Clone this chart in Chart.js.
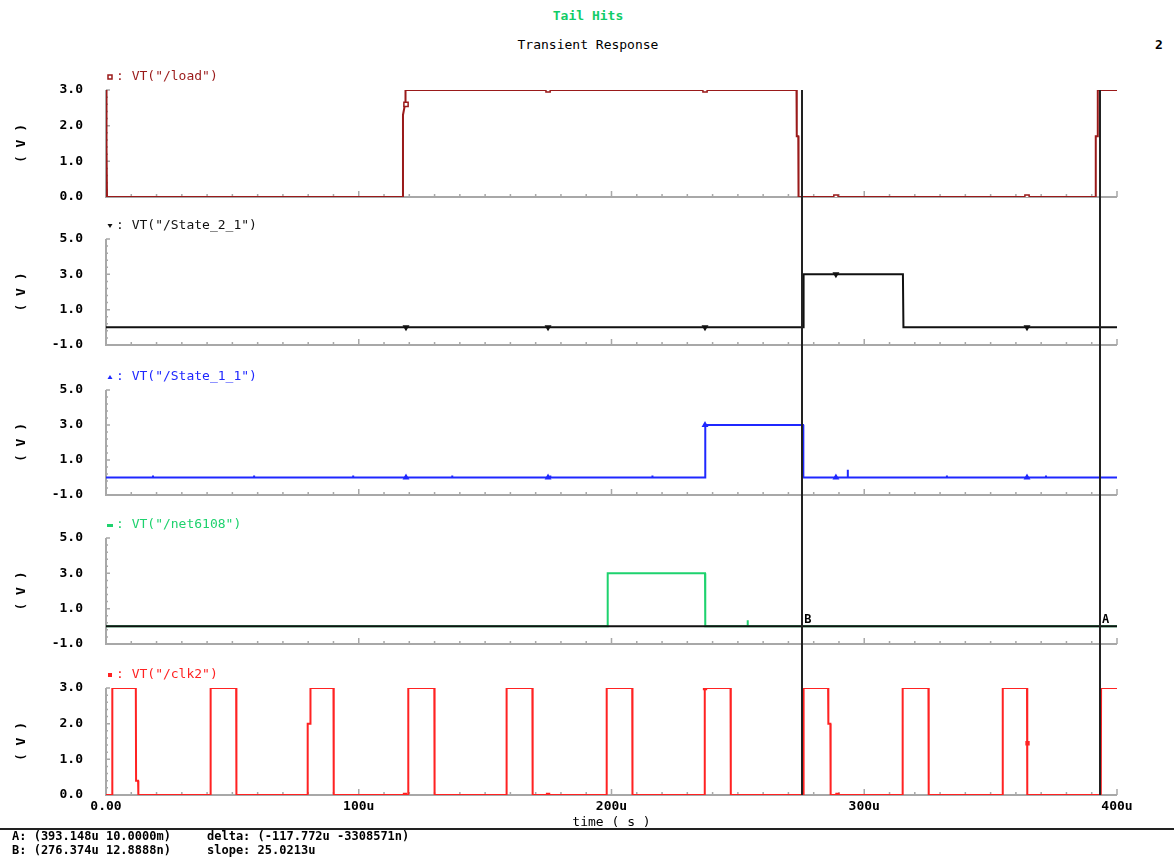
<!DOCTYPE html>
<html>
<head>
<meta charset="utf-8">
<title>Transient Response</title>
<script src="https://cdn.jsdelivr.net/npm/chart.js@4.4.1/dist/chart.umd.min.js"></script>
<style>
  body { margin: 0; background: #fff; }
  #page { position: relative; width: 1174px; height: 862px; overflow: hidden; background: #fff; }
  #page canvas { position: absolute; left: 0; }
  .txt { position: absolute; white-space: pre; font-family: "DejaVu Sans Mono", monospace; font-size: 13px; line-height: 14px; color: #000; }
</style>
</head>
<body>
<div id="page">
  <div class="txt" style="left:488px;top:9px;width:200px;text-align:center;color:#11cc66;font-weight:bold;">Tail Hits</div>
  <div class="txt" style="left:488px;top:38px;width:200px;text-align:center;">Transient Response</div>
  <div class="txt" style="left:1155px;top:38px;font-weight:bold;">2</div>

  <canvas id="c1" width="1174" height="147" style="top:60px"></canvas>
  <canvas id="c2" width="1174" height="148" style="top:207px"></canvas>
  <canvas id="c3" width="1174" height="150" style="top:355px"></canvas>
  <canvas id="c4" width="1174" height="149" style="top:505px"></canvas>
  <canvas id="c5" width="1174" height="176" style="top:654px"></canvas>

  <div style="position:absolute;left:0;top:828px;width:1174px;height:2px;background:#222;"></div>
  <div class="txt" style="left:12px;top:829px;font-size:12px;font-weight:bold;">A: (393.148u 10.0000m)
B: (276.374u 12.8888n)</div>
  <div class="txt" style="left:207px;top:829px;font-size:12px;font-weight:bold;">delta: (-117.772u -3308571n)
slope: 25.0213u</div>
</div>
<script>
// ---- data (time in us, values in V) ----
const xTickLabels = ['0.00', '100u', '200u', '300u', '400u'];
const cursorB = 275.5;
const cursorA = 393.3;

// marker positions shared by all traces
const markT = [118.7, 174.9, 237.0, 288.8, 364.4];

const loadT = [0, 0.1, 0.3, 0.4, 117.4, 117.5, 118.3, 118.5, 273.2, 273.3, 273.9, 274.0, 391.5, 391.6, 392.3, 392.4, 400];
const loadV = [3.0, 1.4, 1.4, 0, 0, 2.3, 2.6, 3.0, 3.0, 1.7, 1.7, 0, 0, 1.7, 1.7, 3.0, 3.0];
const loadMarkV = [2.6, 3.0, 3.0, 0, 0];

const st2T = [0, 275.8, 276.0, 315.3, 315.5, 400];
const st2V = [0, 0, 3.0, 3.0, 0, 0];
const st2MarkV = [0, 0, 0, 3.0, 0];

const st1T = [0, 18.6, 18.6, 18.6, 58.6, 58.6, 58.6, 97.8, 97.8, 97.8, 137.0, 137.0, 137.0,
  175.8, 175.8, 175.8, 216.2, 216.2, 216.2, 237.0, 237.1, 275.8, 275.9, 293.5, 293.5, 293.5,
  332.7, 332.7, 332.7, 371.9, 371.9, 371.9, 400];
const st1V = [0, 0, 0.12, 0, 0, 0.12, 0, 0, 0.12, 0, 0, 0.12, 0,
  0, 0.12, 0, 0, 0.12, 0, 0, 3.0, 3.0, 0, 0, 0.45, 0,
  0, 0.12, 0, 0, 0.12, 0, 0];
const st1MarkV = [0, 0, 3.0, 0, 0];

const netT = [0, 198.4, 198.5, 237.0, 237.1, 253.9, 253.9, 253.9, 400];
const netV = [0, 0, 3.0, 3.0, 0, 0, 0.35, 0, 0];
const refT = [0, 400];
const refV = [0, 0];

const clkT = [0, 2.4, 2.5, 11.8, 11.9, 12.7, 12.8,
  41.3, 41.4, 51.5, 51.6,
  79.7, 79.8, 80.8, 80.9, 90.0, 90.1,
  119.5, 119.6, 129.9, 130.0,
  158.4, 158.5, 168.7, 168.8,
  198.0, 198.1, 208.2, 208.3,
  236.8, 236.9, 247.1, 247.2,
  275.9, 276.0, 285.7, 285.8, 286.6, 286.7,
  315.1, 315.2, 325.4, 325.5,
  354.7, 354.8, 364.4, 364.5,
  393.6, 393.7, 400];
const clkV = [0, 0, 3.0, 3.0, 0.4, 0.4, 0,
  0, 3.0, 3.0, 0,
  0, 2.0, 2.0, 3.0, 3.0, 0,
  0, 3.0, 3.0, 0,
  0, 3.0, 3.0, 0,
  0, 3.0, 3.0, 0,
  0, 3.0, 3.0, 0,
  0, 3.0, 3.0, 2.0, 2.0, 0,
  0, 3.0, 3.0, 0,
  0, 3.0, 3.0, 0,
  0, 3.0, 3.0];
const clkMarkT = [118.3, 174.9, 237.0, 289.4, 364.6];
const clkMarkV = [0, 0, 3.0, 0, 1.45];

// ---- helpers ----
const MONO = '"DejaVu Sans Mono", monospace';
const X_MAX = 400;

function pts(ts, vs) {
  return ts.map((t, i) => ({ x: t, y: vs[i] }));
}

function trace(ts, vs, color) {
  return {
    data: pts(ts, vs), borderColor: color, borderWidth: 2,
    pointRadius: 0, tension: 0, fill: false
  };
}

function marks(ts, vs, color, style, radius, filled, rotation) {
  return {
    data: pts(ts, vs), showLine: false, pointStyle: style, pointRadius: radius,
    pointRotation: rotation || 0, borderColor: color, borderWidth: 1.5,
    backgroundColor: filled ? color : '#fff'
  };
}

function drawGlyph(ctx, kind, x, y, color) {
  ctx.fillStyle = color;
  ctx.strokeStyle = color;
  ctx.lineWidth = 1.5;
  if (kind === 'square') {
    ctx.strokeRect(x - 2, y - 1, 4, 4);
  } else if (kind === 'tridown') {
    ctx.beginPath(); ctx.moveTo(x - 2.5, y - 1); ctx.lineTo(x + 2.5, y - 1); ctx.lineTo(x, y + 3); ctx.closePath(); ctx.fill();
  } else if (kind === 'triup') {
    ctx.beginPath(); ctx.moveTo(x - 2.5, y + 3); ctx.lineTo(x + 2.5, y + 3); ctx.lineTo(x, y - 1); ctx.closePath(); ctx.fill();
  } else if (kind === 'dash') {
    ctx.fillRect(x - 3, y, 6, 3);
  } else {
    ctx.fillRect(x - 2, y - 1, 4, 4);
  }
}

// axes decoration, cursors and trace label
const scopePlugin = {
  id: 'scope',
  beforeDatasetsDraw(chart, args, opts) {
    const { ctx, chartArea: a, scales: { x, y } } = chart;
    ctx.save();
    ctx.strokeStyle = '#a8a8a8';
    ctx.lineWidth = 2;
    ctx.beginPath();
    ctx.moveTo(a.left, a.top);
    ctx.lineTo(a.left, a.bottom);
    ctx.lineTo(a.right, a.bottom);
    ctx.stroke();
    ctx.lineWidth = 1.5;
    ctx.beginPath();
    for (let t = 10; t <= X_MAX; t += 10) {
      const px = x.getPixelForValue(t);
      const h = t % 100 === 0 ? 6 : 3;
      ctx.moveTo(px, a.bottom);
      ctx.lineTo(px, a.bottom - h);
    }
    const n = Math.round((y.max - y.min) / opts.minor);
    for (let i = 0; i <= n; i++) {
      const v = y.min + i * opts.minor;
      const py = y.getPixelForValue(v);
      const major = Math.abs(((v - y.min) / opts.step) - Math.round((v - y.min) / opts.step)) < 1e-6;
      ctx.moveTo(a.left, py);
      ctx.lineTo(a.left + (major ? 4 : 2), py);
    }
    ctx.stroke();
    ctx.restore();
  },
  afterDatasetsDraw(chart, args, opts) {
    const { ctx, chartArea: a, scales: { x, y } } = chart;
    ctx.save();
    // cursors
    const top = opts.cursorFromArea ? a.top : 0;
    const bottom = opts.cursorToArea ? a.bottom : chart.height;
    ctx.strokeStyle = '#222';
    ctx.lineWidth = 2;
    ctx.beginPath();
    [cursorB, cursorA].forEach(t => {
      const px = Math.round(x.getPixelForValue(t));
      ctx.moveTo(px, top);
      ctx.lineTo(px, bottom);
    });
    ctx.stroke();
    if (opts.cursorLabels) {
      const py = y.getPixelForValue(0);
      ctx.fillStyle = '#000';
      ctx.font = 'bold 12px ' + MONO;
      ctx.textBaseline = 'bottom';
      ctx.textAlign = 'left';
      ctx.fillText('B', x.getPixelForValue(cursorB) + 2, py);
      ctx.fillText('A', x.getPixelForValue(cursorA) + 2, py);
    }
    // trace label
    const ly = a.top - 13;
    drawGlyph(ctx, opts.glyph, 110, ly - 1, opts.color);
    ctx.fillStyle = opts.color;
    ctx.font = '13px ' + MONO;
    ctx.textBaseline = 'middle';
    ctx.textAlign = 'left';
    ctx.fillText(': ' + opts.label, 116, ly);
    ctx.restore();
  }
};

function makePanel(id, cfg) {
  const isLast = !!cfg.xAxis;
  new Chart(document.getElementById(id).getContext('2d'), {
    type: 'line',
    data: { datasets: cfg.datasets },
    options: {
      responsive: false,
      animation: false,
      layout: { padding: { top: cfg.padTop, bottom: isLast ? 0 : 10, left: 0, right: 57 } },
      plugins: {
        legend: { display: false },
        tooltip: { enabled: false },
        scope: {
          minor: cfg.minor, step: cfg.step, glyph: cfg.glyph, color: cfg.color, label: cfg.label,
          cursorFromArea: !!cfg.first, cursorToArea: isLast, cursorLabels: !!cfg.cursorLabels
        }
      },
      scales: {
        x: {
          type: 'linear', min: 0, max: X_MAX,
          display: isLast,
          grid: { display: false, drawTicks: false },
          border: { display: false },
          ticks: {
            stepSize: 100, autoSkip: false, maxRotation: 0, padding: 4, color: '#000',
            font: { family: MONO, size: 13, weight: 'bold' },
            callback: (v) => xTickLabels[Math.round(v / 100)]
          },
          title: {
            display: true, text: 'time ( s )', color: '#000',
            font: { family: MONO, size: 13 }, padding: { top: 0, bottom: 0 }
          },
          afterFit: (s) => { s.height = isLast ? 35 : 0; }
        },
        y: {
          type: 'linear', min: cfg.min, max: cfg.max,
          // tick marks hidden with the grid; their length only spaces the labels
          grid: { display: false, drawTicks: true, tickLength: 23 },
          border: { display: false },
          ticks: {
            stepSize: cfg.step, padding: 0, color: '#000',
            font: { family: MONO, size: 13, weight: 'bold' },
            callback: (v) => v.toFixed(1)
          },
          title: {
            display: true, text: '( V )', color: '#000',
            font: { family: MONO, size: 13, weight: 'bold' }, padding: { top: 14, bottom: 0 }
          },
          afterFit: (s) => { s.width = 106; }
        }
      }
    },
    plugins: [scopePlugin]
  });
}

const LOAD_C = '#9a1a1a';
const BLACK_C = '#111';
const BLUE_C = '#1f28ff';
const GREEN_C = '#1ed26e';
const RED_C = '#ff2222';

makePanel('c1', {
  first: true, padTop: 30, min: 0, max: 3, step: 1, minor: 0.2,
  glyph: 'square', color: LOAD_C, label: 'VT("/load")',
  datasets: [
    marks(markT, loadMarkV, LOAD_C, 'rect', 3, false),
    trace(loadT, loadV, LOAD_C)
  ]
});

makePanel('c2', {
  padTop: 32, min: -1, max: 5, step: 2, minor: 0.4,
  glyph: 'tridown', color: BLACK_C, label: 'VT("/State_2_1")',
  datasets: [
    marks(markT, st2MarkV, BLACK_C, 'triangle', 2.5, true, 180),
    trace(st2T, st2V, BLACK_C)
  ]
});

makePanel('c3', {
  padTop: 35, min: -1, max: 5, step: 2, minor: 0.4,
  glyph: 'triup', color: BLUE_C, label: 'VT("/State_1_1")',
  datasets: [
    marks(markT, st1MarkV, BLUE_C, 'triangle', 2.5, true),
    trace(st1T, st1V, BLUE_C)
  ]
});

makePanel('c4', {
  padTop: 33, min: -1, max: 5, step: 2, minor: 0.4, cursorLabels: true,
  glyph: 'dash', color: GREEN_C, label: 'VT("/net6108")',
  datasets: [
    trace(refT, refV, BLACK_C),
    trace(netT, netV, GREEN_C)
  ]
});

makePanel('c5', {
  padTop: 34, min: 0, max: 3, step: 1, minor: 0.2, xAxis: true,
  glyph: 'dot', color: RED_C, label: 'VT("/clk2")',
  datasets: [
    marks(clkMarkT, clkMarkV, RED_C, 'rect', 2, true),
    trace(clkT, clkV, RED_C)
  ]
});
</script>
</body>
</html>
